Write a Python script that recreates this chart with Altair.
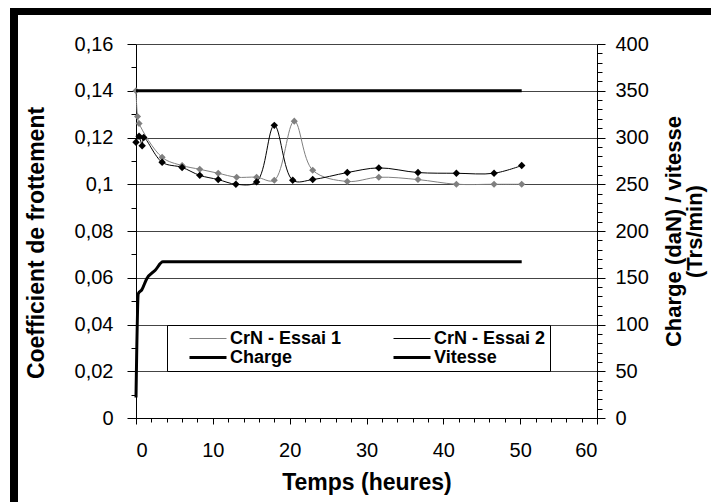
import altair as alt
import pandas as pd

# ---- data ----
essai1_t = [0, 0.2, 0.4, 3.4, 6, 8.3, 10.7, 13.1, 15.7, 18, 20.6, 23, 27.5, 31.6, 36.7, 41.7, 46.6, 50.2]
essai1_v = [0.140, 0.129, 0.126, 0.1115, 0.108, 0.1064, 0.1047, 0.103, 0.103, 0.1017, 0.127, 0.106,
            0.1012, 0.103, 0.102, 0.100, 0.100, 0.100]
essai2_t = [0, 0.4, 0.8, 1.0, 3.4, 6, 8.3, 10.7, 13, 15.7, 18, 20.4, 23, 27.5, 31.6, 36.7, 41.7, 46.6, 50.2]
essai2_v = [0.118, 0.1205, 0.1165, 0.120, 0.1094, 0.1072, 0.1038, 0.102, 0.100, 0.101, 0.1252, 0.1017,
            0.102, 0.105, 0.107, 0.105, 0.1047, 0.1047, 0.108]
charge_t = [0, 50.2]
charge_v = [350, 350]
vitesse_t = [0, 0.3, 0.75, 1.4, 2.5, 3.5, 4.8, 50.2]
vitesse_v = [22, 133, 137, 149, 158, 167, 167, 167]

series_names = ["CrN - Essai 1", "CrN - Essai 2", "Charge", "Vitesse"]
series_colors = ["#808080", "#000000", "#000000", "#000000"]
series_widths = [1, 1, 3, 3]

x_values = list(range(0, 61, 2))
left_values = [round(i * 0.01, 2) for i in range(17)]
right_values = list(range(0, 401, 10))

fric = pd.concat([
    pd.DataFrame({"serie": series_names[0], "t": essai1_t, "v": essai1_v}),
    pd.DataFrame({"serie": series_names[1], "t": essai2_t, "v": essai2_v}),
])
load = pd.concat([
    pd.DataFrame({"serie": series_names[2], "t": charge_t, "v": charge_v}),
    pd.DataFrame({"serie": series_names[3], "t": vitesse_t, "v": vitesse_v}),
])

FONT = "Liberation Sans"

legend = alt.Legend(
    title=None, orient="none", legendX=31, legendY=281, direction="horizontal", columns=2,
    symbolType="stroke", symbolSize=1369, symbolOffset=17, labelOffset=2, clipHeight=19,
    columnPadding=33, rowPadding=0, padding=4,
    labelFont=FONT, labelFontSize=18, labelFontWeight="bold", labelColor="black",
    fillColor="white", strokeColor="black",
)
color_enc = alt.Color("serie:N", scale=alt.Scale(domain=series_names, range=series_colors), legend=legend)
width_enc = alt.StrokeWidth(
    "serie:N", scale=alt.Scale(type="ordinal", domain=series_names, range=series_widths), legend=legend
)

x_enc = alt.X(
    "t:Q",
    scale=alt.Scale(domain=[0, 60], nice=False, zero=False),
    axis=alt.Axis(
        values=x_values, title="Temps (heures)", grid=False,
        labelExpr="datum.value % 10 == 0 ? datum.label : ''", labelOverlap=False,
        tickSize={"condition": {"test": "datum.value % 10 == 0", "value": 6}, "value": 4},
        labelPadding=16, titlePadding=11,
        labelFont=FONT, labelFontSize=20, titleFont=FONT, titleFontSize=23, titleFontWeight="bold",
        domainColor="black", tickColor="black", labelColor="black", titleColor="black",
    ),
)

left_scale = alt.Scale(domain=[0, 0.16], nice=False, zero=True)
left_axis = alt.Axis(
    orient="left", values=left_values, title="Coefficient de frottement",
    labelExpr="round(datum.value*100) % 2 == 0 ? replace(format(datum.value, ''), '.', ',') : ''",
    labelOverlap=False,
    tickSize={"condition": {"test": "round(datum.value*100) % 2 == 0", "value": 9}, "value": 5},
    grid=True, gridColor="#444444", gridWidth=1,
    gridOpacity={"condition": {"test": "round(datum.value*100) % 2 == 0", "value": 1}, "value": 0},
    labelPadding=14, titlePadding=26, titleY=198.5,
    labelFont=FONT, labelFontSize=20, titleFont=FONT, titleFontSize=23, titleFontWeight="bold",
    domainColor="black", tickColor="black", labelColor="black", titleColor="black",
)
right_axis = alt.Axis(
    orient="right", values=right_values, title=["Charge (daN) / vitesse", "(Trs/min)"],
    labelExpr="datum.value % 50 == 0 ? datum.label : ''", labelOverlap=False,
    tickSize={"condition": {"test": "datum.value % 50 == 0", "value": 8}, "value": 5},
    grid=False, labelPadding=10, titlePadding=-6, titleAngle=270, titleBaseline="top",
    titleLineHeight=21,
    labelFont=FONT, labelFontSize=20, titleFont=FONT, titleFontSize=22, titleFontWeight="bold",
    domainColor="black", tickColor="black", labelColor="black", titleColor="black",
)

# outer chart frame (decoration only): top and left edges
one = pd.DataFrame({"k": [0]})
frame_top = alt.Chart(one).mark_rule(color="black", strokeWidth=9).encode(
    x=alt.value(-126), x2=alt.value(575), y=alt.value(-33.5))
frame_left = alt.Chart(one).mark_rule(color="black", strokeWidth=8).encode(
    x=alt.value(-122), y=alt.value(-38), y2=alt.value(470))

essai_lines = alt.Chart(fric).mark_line(interpolate="catmull-rom").encode(
    x=x_enc, y=alt.Y("v:Q", scale=left_scale, axis=left_axis),
    color=color_enc, strokeWidth=width_enc, order="t:Q",
)
pts1 = alt.Chart(fric).transform_filter(alt.datum.serie == series_names[0]).mark_point(
    shape="diamond", filled=True, size=50, color="#808080", opacity=1
).encode(x=x_enc, y=alt.Y("v:Q", scale=left_scale, axis=None))
pts2 = alt.Chart(fric).transform_filter(alt.datum.serie == series_names[1]).mark_point(
    shape="diamond", filled=True, size=55, color="#000000", opacity=1
).encode(x=x_enc, y=alt.Y("v:Q", scale=left_scale, axis=None))

load_lines = alt.Chart(load).mark_line(interpolate="monotone").encode(
    x=x_enc, y=alt.Y("v:Q", scale=alt.Scale(domain=[0, 400], nice=False), axis=right_axis),
    color=color_enc, strokeWidth=width_enc, order="t:Q",
)

chart = alt.layer(frame_top, frame_left, essai_lines, pts1, pts2, load_lines).resolve_scale(
    y="independent"
).properties(
    width=461, height=374,
    padding={"left": 128, "top": 36, "right": 114, "bottom": 87},
    autosize=alt.AutoSizeParams(type="none"),
    background="white",
).configure_view(strokeWidth=0)

chart.save("out.html", embed_options={"renderer": "svg", "actions": False})
